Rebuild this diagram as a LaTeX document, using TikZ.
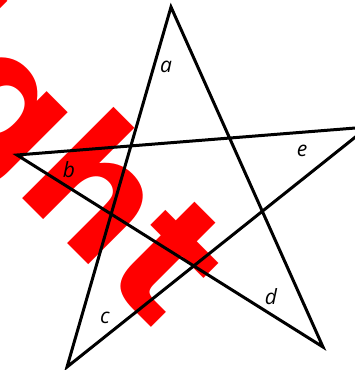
\documentclass[tikz,border=0pt]{standalone}
\usepackage{fontspec}
\newfontfamily\wmfont{DejaVu Sans}
\newfontfamily\lblfont{Open Sans}
\begin{document}
\begin{tikzpicture}[x=1pt,y=-1pt,
  starline/.style={line width=3pt,black},
  lbl/.style={font=\lblfont\itshape\fontsize{21}{21}\selectfont,inner sep=0pt},
  wmark/.style={text=red,font=\wmfont\bfseries\fontsize{170}{170}\selectfont,inner sep=0pt,rotate=-45}]
\useasboundingbox (0,0) rectangle (355,370);
\clip (0,0) rectangle (355,370);
\node[wmark,anchor=base east] (wm) at (156,332) {Copyright};
\coordinate (A) at (171,7);
\coordinate (B) at (17,155);
\coordinate (C) at (67,367);
\coordinate (D) at (323,347);
\coordinate (E) at (368,127);
\draw[starline] (A) -- (C) -- (E) -- (B) -- (D) -- cycle;
\node[lbl] (la) at (166,67) {a};
\node[lbl] (lb) at (69,170) {b};
\node[lbl] (lc) at (105,318) {c};
\node[lbl] (ld) at (271,297) {d};
\node[lbl] (le) at (302,151) {e};
\end{tikzpicture}
\end{document}
